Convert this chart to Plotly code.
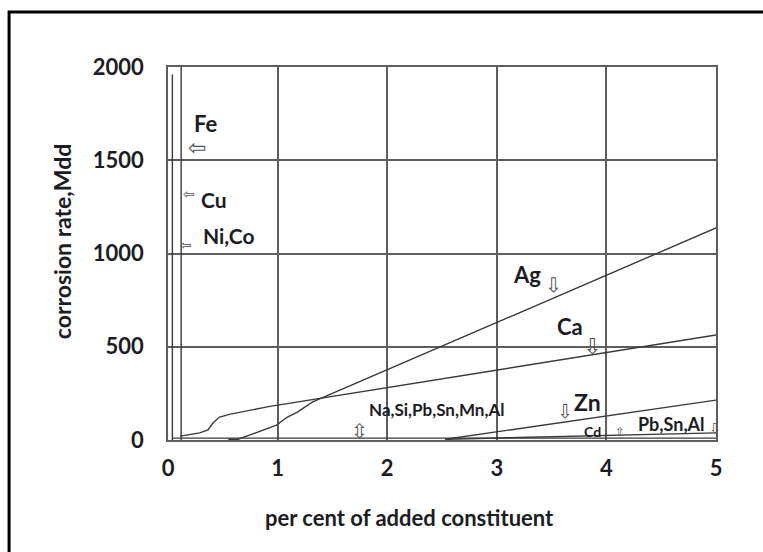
import plotly.graph_objects as go

# ---- data ----
x_ticks = [0, 1, 2, 3, 4, 5]
y_ticks = [0, 500, 1000, 1500, 2000]

fe_x = [0.12, 0.12]
fe_y = [0, 2000]
cu_x = [0.04, 0.04]
cu_y = [0, 1960]
ca_x = [0.11, 0.29, 0.365, 0.41, 0.47, 0.57, 0.93, 5.0]
ca_y = [21, 38, 54, 91, 123, 139, 180, 563]
ag_x = [0.55, 0.64, 0.75, 0.93, 0.99, 1.09, 1.18, 1.32, 5.0]
ag_y = [4, 4, 27, 64, 80, 123, 150, 204, 1137]
zn_x = [2.53, 5.0]
zn_y = [4, 214]
cd_x = [2.53, 3.24, 5.0]
cd_y = [4, 14, 38]
na_x = [0.04, 5.0]
na_y = [10, 10]

# labels: (text, x, y, size)
labels = [
    ("Fe", 0.34, 1695, 22),
    ("Cu", 0.42, 1287, 21),
    ("Ni,Co", 0.557, 1094, 21),
    ("Ag", 3.28, 890, 22),
    ("Ca", 3.67, 611, 22),
    ("Zn", 3.83, 204, 23),
    ("Na,Si,Pb,Sn,Mn,Al", 2.45, 161, 17),
    ("Cd", 3.87, 48, 14),
    ("Pb,Sn,Al", 4.59, 86, 18),
]
# hollow arrows: (glyph, x, y, size)
arrows = [
    ("⇦", 0.265, 1566, 22),
    ("⇦", 0.19, 1319, 14),
    ("⇦", 0.165, 1046, 14),
    ("⇩", 3.52, 830, 20),
    ("⇩", 3.87, 504, 22),
    ("⇩", 3.62, 155, 19),
    ("⇳", 1.75, 48, 20),
    ("⇧", 4.12, 43, 12),
    ("⇩", 4.99, 64, 14),
]

FONT = "Lato"
TXT = "#1c1c24"
LINE = "#3a3a3a"

fig = go.Figure()
for xs, ys in [(fe_x, fe_y), (cu_x, cu_y), (ca_x, ca_y), (ag_x, ag_y),
               (zn_x, zn_y), (cd_x, cd_y), (na_x, na_y)]:
    fig.add_trace(go.Scatter(x=xs, y=ys, mode="lines",
                             line=dict(color=LINE, width=1.4),
                             showlegend=False, hoverinfo="skip"))

for t, x, y, s in labels:
    fig.add_annotation(x=x, y=y, text="<b>%s</b>" % t, showarrow=False,
                       font=dict(family=FONT, size=s, color=TXT))
for g, x, y, s in arrows:
    fig.add_annotation(x=x, y=y, text=g, showarrow=False,
                       font=dict(family="DejaVu Sans", size=s, color="#555555"))

# axis titles
fig.add_annotation(xref="paper", yref="paper", x=0.44, y=-0.209,
                   xanchor="center", yanchor="middle",
                   text="<b>per cent of added constituent</b>", showarrow=False,
                   font=dict(family=FONT, size=22, color=TXT))
fig.add_annotation(xref="paper", yref="paper", x=-0.193, y=0.531,
                   xanchor="center", yanchor="middle",
                   text="<b>corrosion rate,Mdd</b>", showarrow=False, textangle=-90,
                   font=dict(family=FONT, size=23, color=TXT))

# outer black border of the picture
fig.add_shape(type="rect", xref="paper", yref="paper",
              x0=-0.290, x1=1.3, y0=-0.5, y1=1.1475,
              line=dict(color="black", width=3), layer="below")

fig.update_xaxes(range=[0, 5], tickvals=x_ticks,
                 ticktext=["<b>%d</b>" % v for v in x_ticks],
                 showgrid=True, gridcolor="#5e5e5e", gridwidth=1.8,
                 showline=True, linecolor="#5e5e5e", linewidth=1.8, mirror=True,
                 zeroline=False, ticks="", ticklabelstandoff=8,
                 tickfont=dict(family=FONT, size=22, color=TXT))
fig.update_yaxes(range=[0, 2000], tickvals=y_ticks,
                 ticktext=["<b>%d</b>" % v for v in y_ticks],
                 showgrid=True, gridcolor="#5e5e5e", gridwidth=1.8,
                 showline=True, linecolor="#5e5e5e", linewidth=1.8, mirror=True,
                 zeroline=False, ticks="", ticklabelstandoff=18,
                 tickfont=dict(family=FONT, size=22, color=TXT))

fig.update_layout(width=763, height=552,
                  margin=dict(l=168, r=47, t=67, b=112),
                  paper_bgcolor="white", plot_bgcolor="white",
                  showlegend=False)

fig.write_html("out.html")
